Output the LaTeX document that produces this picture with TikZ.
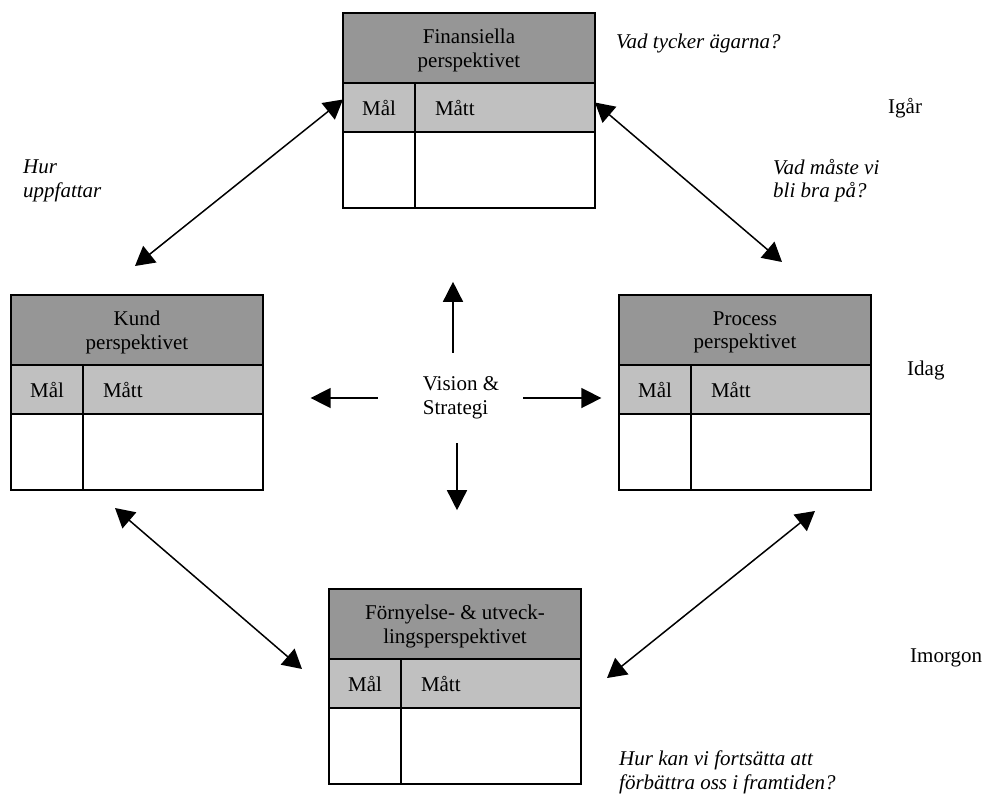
\documentclass[tikz,border=0pt]{standalone}
\usepackage{fontspec}
\setmainfont{Liberation Serif}
\usepackage{xcolor}
\usepackage{tikz}
\usetikzlibrary{arrows.meta,positioning}
\definecolor{hdrgray}{RGB}{150,150,150}
\definecolor{rowgray}{RGB}{192,192,192}

\begin{document}
\begin{tikzpicture}[
  x=1pt, y=-1pt,
  font=\fontsize{21}{23.5}\selectfont,
  hdrbox/.style={draw, line width=1.8pt, fill=hdrgray, outer sep=0pt,
                 minimum width=252pt, minimum height=70pt,
                 align=center, text depth=0pt, anchor=north west},
  malcell/.style={draw, line width=1.8pt, fill=rowgray, outer sep=0pt,
                  minimum width=72pt, minimum height=49pt, anchor=north west},
  mattcell/.style={draw, line width=1.8pt, fill=rowgray, outer sep=0pt,
                   text width=140pt, inner xsep=20pt, align=left,
                   minimum height=49pt, anchor=north west},
  malblank/.style={draw, line width=1.8pt, fill=white, outer sep=0pt,
                   minimum width=72pt, minimum height=76pt, anchor=north west},
  mattblank/.style={draw, line width=1.8pt, fill=white, outer sep=0pt,
                    minimum width=180pt, minimum height=76pt, anchor=north west},
  question/.style={font=\fontsize{21}{23.5}\selectfont\itshape,
                   align=left, inner sep=0pt},
  timelbl/.style={inner sep=0pt, anchor=base west},
  arr/.style={-{Triangle[length=20pt,width=20pt]}, line width=1.5pt},
  dblarr/.style={{Triangle[length=19pt,width=21pt]}-{Triangle[length=19pt,width=21pt]},
                 line width=1.5pt}
]
\useasboundingbox (0,0) rectangle (983,793);
%--- Finansiella perspektivet (top) -----------------------------------------
\node[hdrbox] (fin) at (343,13) {Finansiella\\perspektivet};
\node[malcell] (finmal) at (fin.south west) {Mål};
\node[mattcell] (finmatt) at (finmal.north east) {Mått};
\node[malblank] (finmalb) at (finmal.south west) {};
\node[mattblank] (finmattb) at (finmatt.south west) {};
%--- Kund perspektivet (left) -----------------------------------------------
\node[hdrbox] (kund) at (11,295) {Kund\\perspektivet};
\node[malcell] (kundmal) at (kund.south west) {Mål};
\node[mattcell] (kundmatt) at (kundmal.north east) {Mått};
\node[malblank] (kundmalb) at (kundmal.south west) {};
\node[mattblank] (kundmattb) at (kundmatt.south west) {};
%--- Process perspektivet (right) -------------------------------------------
\node[hdrbox] (proc) at (619,295) {Process\\perspektivet};
\node[malcell] (procmal) at (proc.south west) {Mål};
\node[mattcell] (procmatt) at (procmal.north east) {Mått};
\node[malblank] (procmalb) at (procmal.south west) {};
\node[mattblank] (procmattb) at (procmatt.south west) {};
%--- Förnyelse- & utvecklingsperspektivet (bottom) --------------------------
\node[hdrbox] (forn) at (329,589) {Förnyelse- \& utveck-\\lingsperspektivet};
\node[malcell] (fornmal) at (forn.south west) {Mål};
\node[mattcell] (fornmatt) at (fornmal.north east) {Mått};
\node[malblank] (fornmalb) at (fornmal.south west) {};
\node[mattblank] (fornmattb) at (fornmatt.south west) {};
%--- Centre: vision & strategi ----------------------------------------------
\node[align=left, inner sep=0pt] (vision) at (461,398) {Vision \&\\Strategi};
\draw[arr] ([xshift=-8pt,yshift=24pt]vision.north) -- ++(0,-71);
\draw[arr] ([xshift=-4pt,yshift=-24pt]vision.south) -- ++(0,67);
\draw[arr] ([xshift=-45pt]vision.west) -- ++(-67,0);
\draw[arr] ([xshift=24pt]vision.east) -- ++(78,0);
%--- Questions and time labels ----------------------------------------------
\node[question, anchor=base west] (qfin) at (616,48) {Vad tycker ägarna?};
\node[question, anchor=north west] (qkund) at (23,160) {Hur\\uppfattar};
\node[question, anchor=north west] (qproc) at (773,159) {Vad måste vi\\bli bra på?};
\node[question, anchor=north west] (qforn) at (619,751)
  {Hur kan vi fortsätta att\\förbättra oss i framtiden?};
\node[timelbl] (igar) at (888,113) {Igår};
\node[timelbl] (idag) at (907,375) {Idag};
\node[timelbl] (imorgon) at (910,662) {Imorgon};
%--- Double arrows between the perspectives ---------------------------------
\coordinate (kundtop) at (135,266);
\coordinate (proctop) at (782,262);
\coordinate (kundbot) at (115,508);
\coordinate (fornw)   at (302,669);
\coordinate (procbot) at (815,511);
\coordinate (forne)   at (607,678);
\draw[dblarr] (kundtop) -- ([yshift=8pt]finmal.west);
\draw[dblarr] ([yshift=5pt]finmatt.east) -- (proctop);
\draw[dblarr] (kundbot) -- (fornw);
\draw[dblarr] (procbot) -- (forne);
\end{tikzpicture}
\end{document}
